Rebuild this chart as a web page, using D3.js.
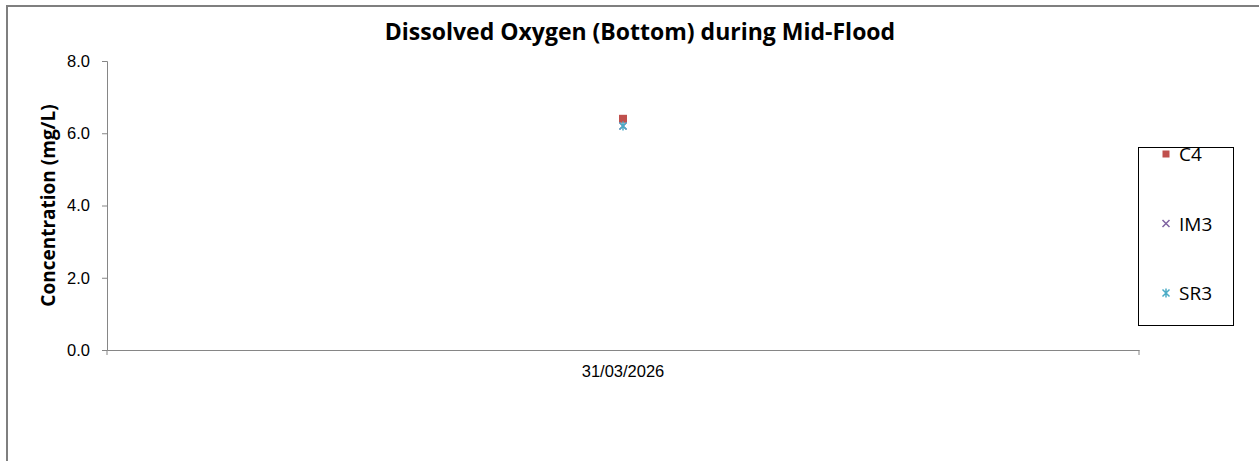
<!DOCTYPE html>
<html>
<head>
<meta charset="utf-8">
<script src="https://cdn.jsdelivr.net/npm/d3@7"></script>
<style>
  body { margin: 0; background: #fff; }
  svg { display: block; font-family: "Open Sans", "Noto Sans", sans-serif; }
</style>
</head>
<body>
<svg id="chart" width="1259" height="461"></svg>
<script>
// data
const dates = ['31/03/2026'];
const seriesNames = ['C4', 'IM3', 'SR3'];
const seriesValues = [[6.4], [6.2], [6.2]];
const seriesColors = ['#C0504D', '#8064A2', '#4BACC6'];
const yTicks = [0, 2, 4, 6, 8];

const svg = d3.select('#chart');
const margin = { top: 61, left: 107, right: 120, bottom: 111 };
const width = 1259, height = 461;

// outer chart frame, runs off the bottom/right edge
svg.append('rect')
    .attr('x', 7).attr('y', 6)
    .attr('width', 1300).attr('height', 500)
    .attr('fill', 'none').attr('stroke', '#7f7f7f').attr('stroke-width', 2);

const x = d3.scaleBand().domain(dates).range([margin.left, width - margin.right]);
const y = d3.scaleLinear().domain([0, 8]).range([height - margin.bottom, margin.top]);

// y axis
const yAxis = svg.append('g')
    .attr('transform', `translate(${margin.left},0)`)
    .call(d3.axisLeft(y).tickValues(yTicks).tickFormat(d3.format('.1f')).tickSizeOuter(0).tickSize(5).tickPadding(12));
yAxis.select('.domain').attr('stroke', '#868686');
yAxis.selectAll('.tick line').attr('stroke', '#868686');
yAxis.selectAll('.tick text').attr('font-size', 16.5).attr('fill', '#000');

// x axis
const xAxis = svg.append('g')
    .attr('transform', `translate(0,${y(0)})`)
    .call(d3.axisBottom(x).tickSize(0).tickPadding(15));
xAxis.select('.domain').attr('stroke', '#868686');
xAxis.selectAll('.tick text').attr('font-size', 16.5).attr('fill', '#000');
svg.append('g').selectAll('line').data(x.range()).join('line')
    .attr('x1', d => d).attr('x2', d => d)
    .attr('y1', y(0)).attr('y2', y(0) + 5)
    .attr('stroke', '#868686');

// title and axis label
svg.append('text')
    .attr('x', 640).attr('y', 40)
    .attr('text-anchor', 'middle')
    .attr('font-size', 23).attr('font-weight', 'bold')
    .text('Dissolved Oxygen (Bottom) during Mid-Flood');
svg.append('text')
    .attr('transform', `translate(55,${(y(0) + y(8)) / 2}) rotate(-90)`)
    .attr('text-anchor', 'middle')
    .attr('font-size', 19).attr('font-weight', 'bold')
    .text('Concentration (mg/L)');

// marker shapes
const drawMarker = (g, i, size) => {
    const s = size / 2;
    if (i === 0) {
        g.append('rect').attr('x', -s).attr('y', -s).attr('width', size).attr('height', size)
            .attr('fill', seriesColors[i]);
    } else {
        const p = d3.path();
        p.moveTo(-s, -s); p.lineTo(s, s);
        p.moveTo(-s, s); p.lineTo(s, -s);
        if (i === 2) { p.moveTo(0, -s - 1); p.lineTo(0, s + 1); }
        g.append('path').attr('d', p.toString())
            .attr('stroke', seriesColors[i]).attr('stroke-width', 1.5).attr('fill', 'none');
    }
};

seriesNames.forEach((name, i) => {
    seriesValues[i].forEach((v, j) => {
        const g = svg.append('g')
            .attr('transform', `translate(${x(dates[j]) + x.bandwidth() / 2},${y(v)})`);
        drawMarker(g, i, i === 0 ? 8 : 7);
    });
});

// legend
const legend = svg.append('g');
legend.append('rect')
    .attr('x', 1138.5).attr('y', 147.5).attr('width', 95).attr('height', 178)
    .attr('fill', '#fff').attr('stroke', '#000').attr('stroke-width', 1);
const legendY = d3.scalePoint().domain(seriesNames).range([154, 293]);
seriesNames.forEach((name, i) => {
    const g = legend.append('g').attr('transform', `translate(1166,${legendY(name)})`);
    drawMarker(g, i, 7);
    g.append('text').attr('x', 13).attr('y', 7)
        .attr('font-size', 19).text(name);
});
</script>
</body>
</html>
